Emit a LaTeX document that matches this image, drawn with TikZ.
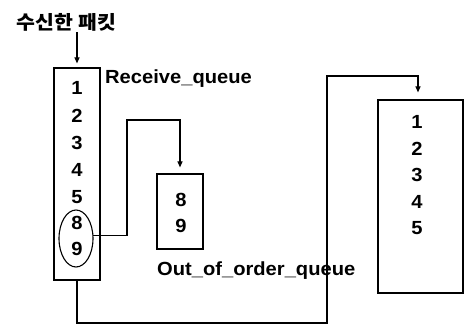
\documentclass[tikz,border=0pt]{standalone}
\usepackage{fontspec}
\setmainfont{Liberation Sans}[FakeStretch=1.06]
\newfontfamily\kr{Noto Sans CJK KR}[FakeStretch=1.08]
\usetikzlibrary{arrows.meta,shapes.geometric}
\begin{document}
\begin{tikzpicture}[x=1pt,y=-1pt,
  every node/.style={font=\bfseries\fontsize{19}{21}\selectfont, inner sep=0pt},
  qbox/.style={draw, line width=1.2pt},
  num/.style={anchor=center},
  lbl/.style={anchor=west},
  conn/.style={line width=1.1pt},
  arr/.style={conn, -{Triangle[length=6pt,width=5pt]}}]
\useasboundingbox (0,0) rectangle (464,327);
% title
\node[font=\kr\bfseries\fontsize{19}{21}\selectfont] (title) at (66.5,22) {수신한 패킷};
% receive queue box
\node[qbox, minimum width=46pt, minimum height=212pt] (recv) at (77,174) {};
\node[lbl] (recvlbl) at (105,79) {Receive\_queue};
\node[num] (r1) at (77,88) {1};
\node[num] (r2) at (77,116) {2};
\node[num] (r3) at (77,143) {3};
\node[num] (r4) at (77,170) {4};
\node[num] (r5) at (77,197) {5};
\node[num] (r8) at (77,223) {8};
\node[num] (r9) at (77,249) {9};
\node[draw, ellipse, line width=1.1pt, minimum width=34pt, minimum height=57pt] (ell) at (76,238.5) {};
% out of order queue
\node[qbox, minimum width=46pt, minimum height=75pt] (ooo) at (180,211.5) {};
\node[num] (o8) at (181,200) {8};
\node[num] (o9) at (181,226) {9};
\node[lbl] (ooolbl) at (157,271) {Out\_of\_order\_queue};
% delivered queue
\node[qbox, minimum width=85pt, minimum height=193pt] (dq) at (420.5,196.5) {};
\node[num] (d1) at (417,122) {1};
\node[num] (d2) at (417,149) {2};
\node[num] (d3) at (417,175) {3};
\node[num] (d4) at (417,202) {4};
\node[num] (d5) at (417,228) {5};
% connectors
\coordinate (c1) at (127,120);
\coordinate (c2) at (327,323);
\coordinate (c3) at (327,76);
\coordinate (c4) at (418,76);
\coordinate (t0) at (77,32);
\draw[arr, shorten >=4pt] (t0) -- (recv.north);
\draw[arr, shorten >=6pt] (ell.10) -| (c1) -| (ooo.north);
\draw[arr, shorten >=7pt] (recv.south) |- (c2) -- (c3) -- (c4) -- (c4 |- dq.north);
\end{tikzpicture}
\end{document}
